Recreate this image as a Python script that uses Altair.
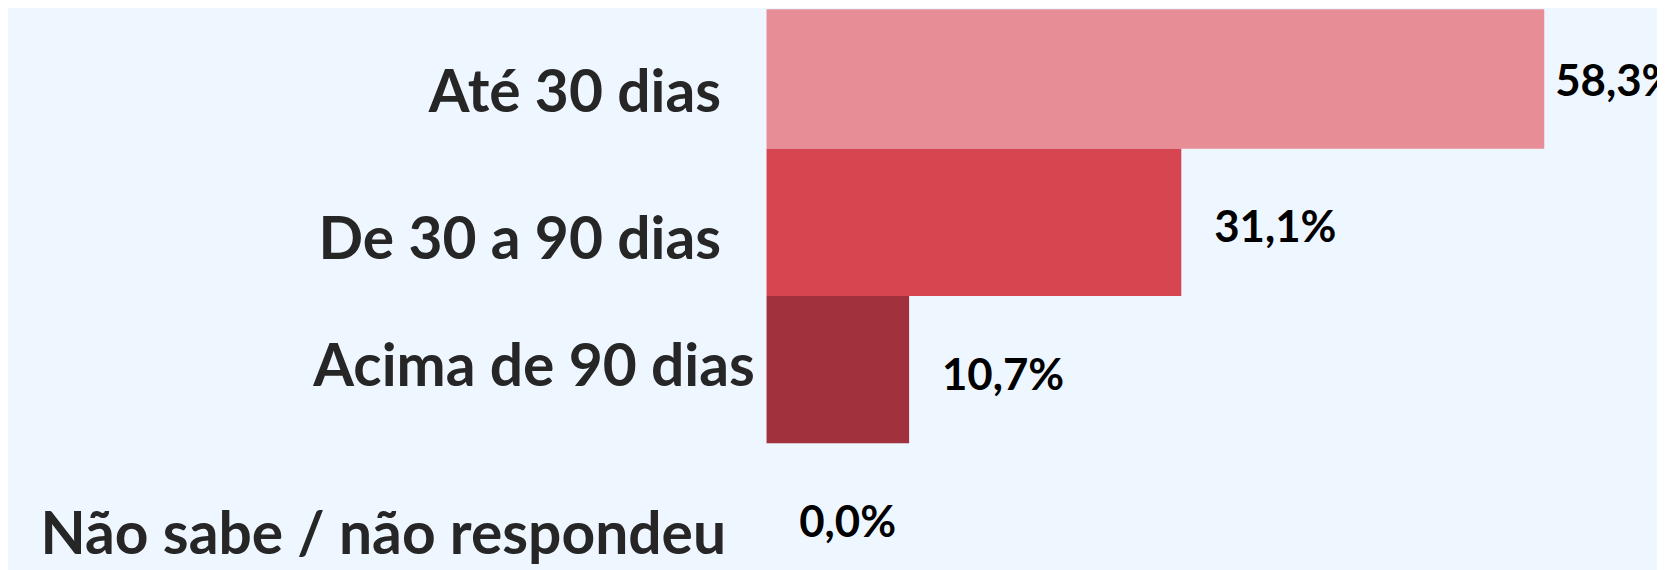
import altair as alt
import pandas as pd

categories = ["Até 30 dias", "De 30 a 90 dias", "Acima de 90 dias", "Não sabe / não respondeu"]
values = [58.3, 31.1, 10.7, 0.0]
value_labels = ["58,3%", "31,1%", "10,7%", "0,0%"]
bar_colors = ["#E68D95", "#D64550", "#A1323D", "#C0C0C0"]

df = pd.DataFrame({"categoria": categories, "valor": values, "rotulo": value_labels})

BG = "#EEF6FF"
FONT = "Lato"

y_enc = alt.Y(
    "categoria:N",
    sort=categories,
    title=None,
    scale=alt.Scale(range=[-8, 584], paddingInner=0, paddingOuter=0),
    axis=alt.Axis(
        domain=False,
        ticks=False,
        grid=False,
        labelFont=FONT,
        labelFontWeight="bold",
        labelFontSize=59,
        labelColor="#262626",
        labelLimit=800,
        labelAlign="right",
        labelBaseline="middle",
        labelPadding={
            "condition": [
                {"test": "datum.value == 'Acima de 90 dias'", "value": 12},
                {"test": "datum.value == 'Não sabe / não respondeu'", "value": 41},
            ],
            "value": 46,
        },
        labelOffset={"condition": {"test": "datum.value == 'Acima de 90 dias'", "value": -2}, "value": 19},
    ),
)

x_enc = alt.X(
    "valor:Q",
    title=None,
    scale=alt.Scale(domain=[0, 66.75], nice=False, zero=True),
    axis=None,
)

base = alt.Chart(df)

bars = base.mark_bar(clip=True, cornerRadius=0, strokeWidth=0).encode(
    y=y_enc,
    x=x_enc,
    color=alt.Color("categoria:N", scale=alt.Scale(domain=categories, range=bar_colors), legend=None),
)

text_first = base.transform_filter(alt.datum.categoria == categories[0]).mark_text(
    align="left", baseline="middle", dx=11, dy=8, font=FONT, fontWeight="bold", fontSize=44, color="#000000", clip=True
).encode(y=y_enc, x=x_enc, text="rotulo:N")

text_rest = base.transform_filter(alt.datum.categoria != categories[0]).mark_text(
    align="left", baseline="middle", dx=33, dy=7, font=FONT, fontWeight="bold", fontSize=44, color="#000000", clip=True
).encode(y=y_enc, x=x_enc, text="rotulo:N")

chart = (
    alt.layer(bars, text_first, text_rest)
    .properties(
        width=895,
        height=562,
        background=BG,
        padding={"left": 762, "top": 0, "right": 0, "bottom": 0},
        autosize=alt.AutoSizeParams(type="none"),
    )
    .configure_view(stroke=None, fill=BG)
)

chart.save("out.html", embed_options={"renderer": "svg", "actions": False})
